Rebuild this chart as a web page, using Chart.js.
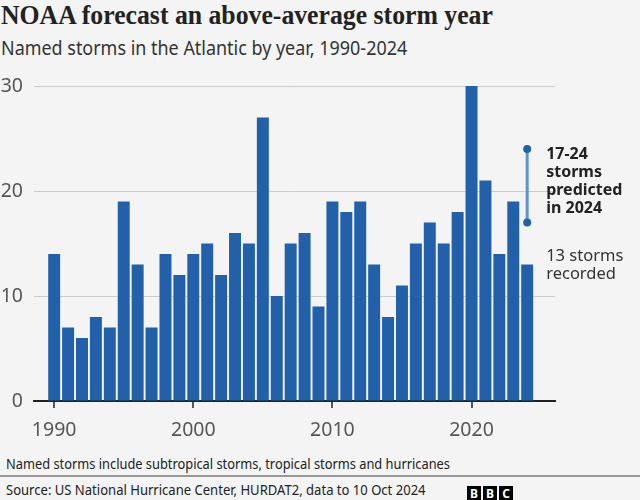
<!DOCTYPE html>
<html>
<head>
<meta charset="utf-8">
<script src="https://cdn.jsdelivr.net/npm/chart.js@4"></script>
<style>
  html, body { margin: 0; padding: 0; background: #f4f4f4; }
  #page { position: relative; width: 640px; height: 500px; overflow: hidden; font-family: "Noto Sans", sans-serif; color: #222; }
  #page .squeeze { transform-origin: 0 50%; }
  #title { position: absolute; left: 1px; top: 0px; font-family: "Liberation Serif", serif; font-weight: bold; font-size: 27px; white-space: nowrap; transform: scaleX(0.953); }
  #subtitle { position: absolute; left: 1px; top: 34px; font-size: 19.5px; color: #333; white-space: nowrap; transform: scaleX(0.92); }
  #chart-holder { position: absolute; left: 0; top: 62px; width: 640px; height: 378px; }
  #note { position: absolute; left: 6px; top: 453px; font-size: 14.5px; white-space: nowrap; transform: scaleX(0.885); }
  #rule { position: absolute; left: 0; top: 475px; width: 640px; height: 2px; background: #999; }
  #source { position: absolute; left: 6px; top: 479px; font-size: 14.5px; white-space: nowrap; transform: scaleX(0.9); }
  #logo { position: absolute; left: 467px; top: 481px; }
  #logo span { display: inline-block; width: 14px; height: 16px; margin-right: 2px; background: #000; color: #fff; font: bold 12px "Noto Sans", sans-serif; text-align: center; line-height: 16px; }
</style>
</head>
<body>
<div id="page">
  <div id="title" class="squeeze">NOAA forecast an above-average storm year</div>
  <div id="subtitle" class="squeeze">Named storms in the Atlantic by year, 1990-2024</div>
  <div id="chart-holder"><canvas id="chart"></canvas></div>
  <div id="note" class="squeeze">Named storms include subtropical storms, tropical storms and hurricanes</div>
  <div id="rule"></div>
  <div id="source" class="squeeze">Source: US National Hurricane Center, HURDAT2, data to 10 Oct 2024</div>
  <div id="logo"><span>B</span><span>B</span><span>C</span></div>
</div>
<script>
years = [1990, 1991, 1992, 1993, 1994, 1995, 1996, 1997, 1998, 1999,
         2000, 2001, 2002, 2003, 2004, 2005, 2006, 2007, 2008, 2009,
         2010, 2011, 2012, 2013, 2014, 2015, 2016, 2017, 2018, 2019,
         2020, 2021, 2022, 2023, 2024];
storms = [14, 7, 6, 8, 7, 19, 13, 7, 14, 12,
          14, 15, 12, 16, 15, 27, 10, 15, 16, 9,
          19, 18, 19, 13, 8, 11, 15, 17, 15, 18,
          30, 21, 14, 19, 13];
forecastYear = 2024;
forecastRange = [17, 24];
yTicks = [0, 10, 20, 30];
xTicks = [1990, 2000, 2010, 2020];

var blue = '#2260a9';

// small tick marks under the axis line, and the text next to the 2024 bar
var notesPlugin = {
  id: 'notes',
  afterDraw: function(chart) {
    var c = chart.ctx;
    var xs = chart.scales.x, ys = chart.scales.y;
    var axisY = chart.chartArea.bottom;
    c.save();
    c.strokeStyle = '#222';
    c.lineWidth = 1.5;
    xTicks.forEach(function(v) {
      var px = Math.round(xs.getPixelForValue(v));
      c.beginPath();
      c.moveTo(px, axisY);
      c.lineTo(px, axisY + 7);
      c.stroke();
    });

    var x = xs.getPixelForValue(forecastYear) + 19;
    var yTop = ys.getPixelForValue(forecastRange[1]);
    var yBar = ys.getPixelForValue(storms[storms.length - 1]);
    c.textAlign = 'left';
    c.textBaseline = 'middle';
    c.fillStyle = '#222';
    c.font = 'bold 16px "Noto Sans"';
    [forecastRange[0] + '-' + forecastRange[1], 'storms', 'predicted', 'in ' + forecastYear].forEach(function(t, i) {
      c.fillText(t, x, yTop + 5 + i * 18.3);
    });
    c.font = '16.5px "Noto Sans"';
    c.fillStyle = '#333';
    c.fillText(storms[storms.length - 1] + ' storms', x, yBar - 8);
    c.fillText('recorded', x, yBar + 9.5);
    c.restore();
  }
};

var ctx = document.getElementById('chart').getContext('2d');

chart = new Chart(ctx, {
  type: 'bar',
  data: {
    datasets: [{
      type: 'line',
      data: forecastRange.map(function(v) { return {x: forecastYear, y: v}; }),
      borderColor: '#5f93cf',
      borderWidth: 3,
      pointRadius: 4,
      pointBackgroundColor: blue,
      pointBorderWidth: 0,
      order: 0
    }, {
      data: years.map(function(y, i) { return {x: y, y: storms[i]}; }),
      backgroundColor: blue,
      borderWidth: 0,
      barPercentage: 0.86,
      categoryPercentage: 1,
      order: 1
    }]
  },
  options: {
    responsive: true,
    maintainAspectRatio: false,
    animation: false,
    layout: { padding: { top: 24, right: 85, left: 0, bottom: 0 } },
    plugins: { legend: { display: false }, tooltip: { enabled: false } },
    scales: {
      x: {
        type: 'linear',
        min: 1988.55,
        max: 2026,
        offset: false,
        grid: { display: false, drawTicks: false },
        border: { color: '#222', width: 2 },
        afterBuildTicks: function(s) { s.ticks = xTicks.map(function(v) { return {value: v}; }); },
        afterFit: function(s) { s.height = 39; },
        ticks: { color: '#555', font: { family: 'Noto Sans', size: 19.5 }, padding: 18, maxRotation: 0, callback: function(v) { return v; } }
      },
      y: {
        min: 0,
        max: 30,
        afterBuildTicks: function(s) { s.ticks = yTicks.map(function(v) { return {value: v}; }); },
        afterFit: function(s) { s.width = 34; },
        grid: { color: '#cccccc', lineWidth: 1, drawTicks: false },
        border: { display: false },
        ticks: { color: '#555', font: { family: 'Noto Sans', size: 19.5 }, padding: 11 }
      }
    }
  },
  plugins: [notesPlugin]
});
</script>
</body>
</html>
